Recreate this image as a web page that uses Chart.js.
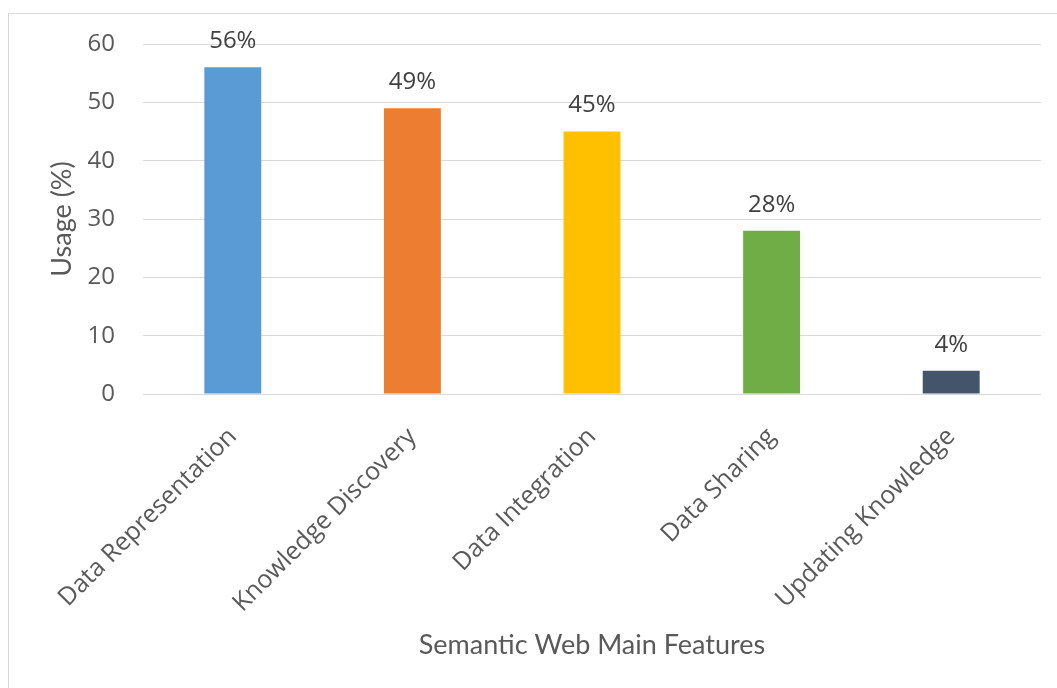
<!DOCTYPE html>
<html>
<head>
<meta charset="utf-8">
<script src="https://cdn.jsdelivr.net/npm/chart.js@4.4.1/dist/chart.umd.min.js"></script>
<style>
  html, body { margin: 0; padding: 0; background: #ffffff; }
  #frame {
    position: absolute; left: 8px; top: 13px; width: 1049px; height: 675px;
    border-left: 1px solid #d9d9d9; border-top: 1px solid #d9d9d9; box-sizing: border-box;
  }
  #c { position: absolute; left: 0; top: 0; }
</style>
</head>
<body>
<div id="frame"></div>
<canvas id="c" width="1057" height="688"></canvas>
<script>
// Chart data
const categories = ['Data Representation', 'Knowledge Discovery', 'Data Integration', 'Data Sharing', 'Updating Knowledge'];
const usage = [56, 49, 45, 28, 4];
const barColors = ['#5B9BD5', '#ED7D31', '#FFC000', '#70AD47', '#44546A'];
const yMin = 0, yMax = 60, yStep = 10;
const xTitle = 'Semantic Web Main Features';
const yTitle = 'Usage (%)';

// Layout of the plotting area
const W = 1057, H = 688;
const PLOT_LEFT = 143, PLOT_RIGHT = 1041, PLOT_TOP = 44, PLOT_BOTTOM = 394;

const yTickFont = { family: '"Open Sans"', size: 24 };
const xTickFont = { family: '"Open Sans"', size: 25 };
const titleFont = { family: 'Lato', size: 27 };
const textGray = '#595959';

// Percentage labels above each bar
const valueLabels = {
  id: 'valueLabels',
  afterDatasetsDraw(chart) {
    const { ctx } = chart;
    const meta = chart.getDatasetMeta(0);
    ctx.save();
    ctx.font = '24px "Open Sans"';
    ctx.fillStyle = '#404040';
    ctx.textAlign = 'center';
    ctx.textBaseline = 'middle';
    meta.data.forEach((bar, i) => {
      ctx.fillText(usage[i] + '%', bar.x, bar.y - 26);
    });
    ctx.restore();
  }
};

new Chart(document.getElementById('c'), {
  type: 'bar',
  data: {
    labels: categories,
    datasets: [{
      data: usage,
      backgroundColor: barColors,
      borderWidth: 0,
      categoryPercentage: 1,
      barPercentage: 0.317
    }]
  },
  options: {
    responsive: false,
    animation: false,
    layout: { padding: { top: PLOT_TOP, right: W - PLOT_RIGHT, left: 0, bottom: 0 } },
    plugins: { legend: { display: false }, tooltip: { enabled: false } },
    scales: {
      x: {
        grid: { display: false, drawTicks: false },
        border: { display: false },
        ticks: {
          autoSkip: false, minRotation: 45, maxRotation: 45,
          color: textGray, font: xTickFont, padding: 28
        },
        title: {
          display: true, text: xTitle, color: textGray, font: titleFont,
          padding: { top: 0, bottom: 27 }
        },
        afterFit(scale) { scale.height = H - PLOT_BOTTOM; }
      },
      y: {
        min: yMin, max: yMax,
        grid: { color: '#d9d9d9', lineWidth: 1, drawTicks: false },
        border: { display: false },
        ticks: { stepSize: yStep, color: textGray, font: yTickFont, padding: 28 },
        title: {
          display: true, text: yTitle, color: textGray, font: titleFont,
          padding: { top: 46, bottom: 0 }
        },
        afterFit(scale) { scale.width = PLOT_LEFT; }
      }
    }
  },
  plugins: [valueLabels]
});
</script>
</body>
</html>
